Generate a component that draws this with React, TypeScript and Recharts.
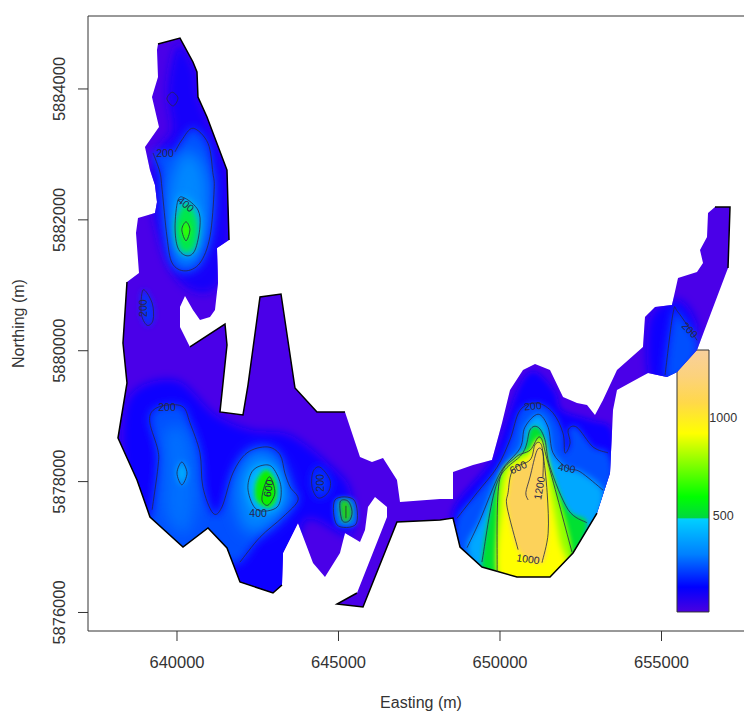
// Wind/biomass style survey map: filled contour bands over a land outline, axes in UTM metres.
import React from 'react';
import { ComposedChart, Scatter, XAxis, YAxis, ReferenceArea, ReferenceLine } from 'recharts';

type P = [number, number];

const X_DOMAIN = [637245, 657554];
const Y_DOMAIN = [5875717, 5885115];
const xTicks = [640000, 645000, 650000, 655000];
const yTicks = [5876000, 5878000, 5880000, 5882000, 5884000];

const outline: P[] = [
  [639412, 5884687], [640093, 5884778], [640495, 5884412], [640619, 5884259], [640650, 5883877], [640929, 5883571],
  [641548, 5882761], [641579, 5882227], [641610, 5881692], [641238, 5881570], [641269, 5881035], [641176, 5880622],
  [641022, 5880515], [640712, 5880469], [640495, 5880622], [640248, 5880836], [640093, 5880668], [640093, 5880362],
  [640402, 5880057], [641486, 5880408], [641548, 5880087], [641331, 5879064], [642043, 5879018], [642198, 5879476],
  [642570, 5880821], [643220, 5880867], [643653, 5879430], [644334, 5879064], [645201, 5879064], [645666, 5878376],
  [646037, 5878300], [646378, 5878361], [646811, 5878025], [646904, 5877688], [648142, 5877734], [648545, 5877734],
  [648545, 5878147], [649164, 5878254], [649752, 5878330], [650062, 5878896], [650310, 5879400], [650712, 5879705],
  [651084, 5879797], [651548, 5879705], [651951, 5879293], [652384, 5879201], [652694, 5879171], [652941, 5879018],
  [653189, 5879247], [653622, 5879705], [654427, 5880057], [654489, 5880515], [654799, 5880668], [655325, 5880699],
  [655511, 5881111], [656099, 5881203], [656285, 5881340], [656192, 5881539], [656409, 5881738], [656440, 5882104],
  [656656, 5882196], [657121, 5882196], [657059, 5881264], [656099, 5880011], [655480, 5879675], [655170, 5879598],
  [654582, 5879660], [653622, 5879400], [653499, 5879094], [653406, 5878132], [653003, 5877520], [652260, 5876909],
  [651548, 5876542], [650526, 5876542], [649443, 5876695], [648762, 5877001], [648545, 5877444], [648142, 5877413],
  [646811, 5877383], [645759, 5876084], [644954, 5876130], [645573, 5876298], [646502, 5877459], [646502, 5877612],
  [646130, 5877765], [645913, 5877612], [645820, 5877261], [645666, 5877077], [645201, 5877215], [645046, 5876909],
  [644582, 5876542], [644211, 5876756], [643746, 5877368], [643282, 5876909], [643251, 5876420], [642972, 5876298],
  [641950, 5876466], [641548, 5876986], [640960, 5877291], [640186, 5877001], [639164, 5877459], [638762, 5878025],
  [638173, 5878666], [638452, 5879507], [638328, 5880118], [638452, 5881050], [638824, 5881188], [638731, 5881799],
  [638793, 5882028], [639319, 5882104], [639381, 5882272], [639319, 5882532], [639164, 5882761], [639009, 5883113],
  [639443, 5883418], [639226, 5883877], [639412, 5884182], [639381, 5884595],
];

// stretches of the outline that carry the heavy black edge
const edgeRanges: P[] = [[0, 9], [18, 29], [60, 63], [70, 82], [94, 106]];

const blueNorth: P[] = [
  [640030, 5884670], [640560, 5884290], [640710, 5883830], [641580, 5882760], [641640, 5881690], [641270, 5881000],
  [640560, 5880900], [639850, 5881200], [639410, 5881770], [639160, 5882530], [639410, 5883070], [639850, 5883370],
  [639720, 5883980],
];
const blueSouthWest: P[] = [
  [638480, 5879250], [639940, 5879550], [641180, 5879020], [642260, 5878790], [643500, 5878710], [644740, 5878250],
  [645360, 5877870], [645360, 5877180], [643960, 5877410], [643500, 5876340], [641950, 5876340], [640870, 5877180],
  [640090, 5876880], [639010, 5877340], [638390, 5878020],
];
const blueCentre: P[] = [
  [648610, 5877640], [649690, 5878300], [650150, 5878870], [650620, 5879480], [651080, 5879680], [651700, 5879370],
  [651920, 5879090], [652790, 5878940], [653470, 5878790], [653470, 5878100], [652320, 5876800], [649380, 5876650],
  [648610, 5877260],
];
const blueEast: P[] = [
  [654640, 5880500], [655510, 5880780], [656100, 5880390], [655880, 5879860], [655260, 5879550], [654640, 5879580],
];

// contour lines, named by level
const north200: P[] = [
  [639260, 5883020], [639470, 5882730], [639540, 5882460], [639690, 5881740], [639850, 5881340], [640250, 5881220],
  [640710, 5881340], [641020, 5881740], [641150, 5882460], [641110, 5882720], [640960, 5883170], [640500, 5883400],
  [640150, 5883220], [639940, 5883040],
];
const north300: P[] = [
  [640280, 5883070], [640870, 5882760], [640960, 5882000], [640560, 5881360], [640030, 5881360], [639720, 5882000],
  [639780, 5882610],
];
const north400: P[] = [
  [640250, 5882330], [640650, 5882150], [640710, 5881890], [640560, 5881540], [640310, 5881450], [640030, 5881570],
  [639940, 5881890], [640030, 5882300],
];
const north500: P[] = [
  [640280, 5882260], [640620, 5882000], [640590, 5881620], [640280, 5881490], [640030, 5881620], [639970, 5881970],
];
const north600: P[] = [[640280, 5881970], [640400, 5881850], [640280, 5881680], [640150, 5881850]];
const northLow: P[] = [[639850, 5883950], [640030, 5883860], [639880, 5883740], [639690, 5883850]];
const west200: P[] = [[638950, 5880930], [639230, 5880730], [639260, 5880470], [639070, 5880390], [638890, 5880580]];

const southWest200: P[] = [
  [639230, 5877570], [639410, 5878220], [639410, 5878480], [639160, 5878900], [639260, 5879090], [639690, 5879170],
  [640190, 5879140], [640400, 5878900], [640710, 5878440], [640800, 5877920], [641110, 5877520], [641390, 5877610],
  [641730, 5878130], [642170, 5878440], [642790, 5878530], [643190, 5878410], [643340, 5878130], [643500, 5877920],
  [643750, 5877720], [643280, 5877460], [642570, 5877150], [641950, 5876770],
];
const southWest200Edge: P[] = [[641490, 5876800], [640960, 5877110], [640190, 5876800], [639010, 5877260]];
const southWest300: P[] = [
  [639630, 5878790], [640250, 5878790], [640560, 5878180], [640560, 5877570], [640250, 5877180], [639630, 5877490],
  [639630, 5878180],
];
const southWest400: P[] = [[640150, 5878300], [640310, 5878130], [640150, 5877950], [640000, 5878130]];

const peak300: P[] = [
  [642630, 5878480], [643280, 5878180], [643440, 5877720], [642880, 5877340], [642110, 5877260], [641800, 5877870],
  [642110, 5878330],
];
const peak400: P[] = [
  [642660, 5878250], [642970, 5878210], [643220, 5877920], [643100, 5877610], [642480, 5877570], [642200, 5877870],
  [642320, 5878150],
];
const peakGreen: P[] = [
  [642760, 5878180], [643070, 5877990], [643070, 5877720], [642820, 5877600], [642450, 5877720], [642450, 5877990],
];
const peak600: P[] = [[642880, 5878070], [643030, 5877830], [642820, 5877640], [642630, 5877720], [642720, 5877950]];

const oval200: P[] = [
  [644430, 5878220], [644740, 5878020], [644670, 5877830], [644370, 5877750], [644180, 5877920], [644210, 5878150],
];
const spot200: P[] = [[644890, 5877720], [645480, 5877720], [645540, 5877350], [644950, 5877340]];
const spot400: P[] = [[645050, 5877690], [645300, 5877700], [645420, 5877540], [645330, 5877400], [645110, 5877410]];
const spotCore: P[] = [[645230, 5877630], [645230, 5877440]];

const east200: P[] = [[655110, 5879630], [655360, 5880580], [655510, 5880590], [656100, 5880160]];
const east200Edge: P[] = [[656040, 5879860], [655570, 5879580]];

const centre200: P[] = [
  [648670, 5877440], [649290, 5877830], [649910, 5878220], [650310, 5878640], [650620, 5879090], [651150, 5879200],
  [651640, 5879050], [651950, 5878740], [652010, 5878440], [652170, 5878590], [652110, 5878790], [652380, 5878830],
  [652880, 5878530], [653340, 5878440],
];
const centre200Edge: P[] = [
  [653470, 5878020], [653000, 5877410], [652260, 5876800], [651550, 5876420], [650530, 5876420], [649440, 5876570],
  [648700, 5876920],
];
const centre400: P[] = [
  [648980, 5876990], [649380, 5877410], [650000, 5878130], [650620, 5878510], [650770, 5878830], [651180, 5879030],
  [651490, 5878830], [651640, 5878440], [652070, 5878210], [652480, 5878150], [653190, 5877870],
];
const centre400Edge: P[] = [[653000, 5877410], [652260, 5876800], [651550, 5876420], [650530, 5876420], [649440, 5876570]];
const centre600: P[] = [
  [649440, 5876770], [649910, 5877980], [650710, 5878440], [650930, 5878790], [651180, 5878830], [651390, 5878640],
  [651550, 5878220], [652110, 5877570], [652690, 5877370],
];
const centre600Edge: P[] = [[652260, 5876800], [651550, 5876420], [650530, 5876420], [649690, 5876530]];
const centre800: P[] = [
  [649910, 5876620], [649970, 5877980], [650460, 5878360], [650930, 5878480], [651240, 5878680], [651490, 5878280],
  [652230, 5876920],
];
const centre800Edge: P[] = [[651550, 5876420], [650530, 5876420], [650000, 5876420]];
const centreYellow: P[] = [
  [650050, 5876450], [650060, 5877640], [650280, 5878200], [650870, 5878400], [651270, 5878620], [651560, 5877870],
  [651850, 5877110], [652000, 5876600],
];
const centre1000: P[] = [
  [650560, 5876960], [650220, 5877610], [650250, 5877830], [650400, 5878180], [650930, 5878330], [651080, 5878560],
  [651240, 5878590], [651330, 5878440], [651460, 5877830], [651490, 5877210], [651300, 5876760],
];
const centre1200: P[] = [
  [650870, 5877720], [650800, 5877830], [650930, 5878070], [651150, 5878480], [651330, 5878440], [651330, 5878070],
];

const openContours: P[][] = [north200, southWest200, east200, centre200, centre400, centre600, centre800, centre1000, centre1200, spotCore];
const closedContours: P[][] = [north400, north600, northLow, west200, southWest400, peak400, peak600, oval200, spot200, spot400];

const levelLabels: { e: number; n: number; text: string; turn: number }[] = [
  { e: 639630, n: 5883020, text: '200', turn: 0 },
  { e: 640280, n: 5882240, text: '400', turn: 40 },
  { e: 638950, n: 5880650, text: '200', turn: -90 },
  { e: 639690, n: 5879140, text: '200', turn: 0 },
  { e: 642510, n: 5877520, text: '400', turn: 0 },
  { e: 642820, n: 5877900, text: '600', turn: -80 },
  { e: 644430, n: 5877980, text: '200', turn: -90 },
  { e: 651020, n: 5879160, text: '200', turn: -5 },
  { e: 652070, n: 5878210, text: '400', turn: 10 },
  { e: 650560, n: 5878220, text: '600', turn: -25 },
  { e: 651210, n: 5877900, text: '1200', turn: -80 },
  { e: 650870, n: 5876820, text: '1000', turn: 8 },
  { e: 655880, n: 5880320, text: '200', turn: 45 },
];

// colour key
const keyEastings = [655480, 656470];
const keyNorthings = [5876008, 5880011];
const keyOffsets = [0, 0.1, 0.2, 0.318, 0.56, 0.64, 0.645, 0.78, 0.905, 1];
const keyColours = ['#f8d09c', '#fcd27c', '#ffd84a', '#ffff00', '#00ff00', '#00d840', '#00d0ff', '#0080ff', '#0000ff', '#4a00e0'];
const keyLabels = [
  { e: 656910, n: 5877475, text: '500' },
  { e: 656910, n: 5878972, text: '1000' },
];

const BASE = '#4a00e8';
const INK = '#333';
const FONT = '"Liberation Sans", Arial, sans-serif';

const toPoints = (list: P[]) => list.map(([e, n]) => ({ e, n }));
const noDot = () => <g />;

const smoothPath = (pts: { x: number; y: number }[], closed: boolean) => {
  const n = pts.length;
  const at = (i: number) => (closed ? pts[(i + n) % n] : pts[Math.max(0, Math.min(n - 1, i))]);
  let d = `M${pts[0].x},${pts[0].y}`;
  const last = closed ? n : n - 1;
  for (let i = 0; i < last; i++) {
    const [a, b, c, e] = [at(i - 1), at(i), at(i + 1), at(i + 2)];
    d += `C${b.x + (c.x - a.x) / 6},${b.y + (c.y - a.y) / 6} ${c.x - (e.x - b.x) / 6},${c.y - (e.y - b.y) / 6} ${c.x},${c.y}`;
  }
  return closed ? d + 'Z' : d;
};

const bandLine = (fill: string, blur: number) => (p: any) => (
  <g clipPath="url(#land)">
    <g filter={`url(#blur${blur})`}>
      <path d={smoothPath(p.points, true)} fill={fill} stroke="none" />
    </g>
  </g>
);

const landLine = (p: any) => {
  const d = p.points.map((q: any, i: number) => `${i ? 'L' : 'M'}${q.x},${q.y}`).join('') + 'Z';
  return (
    <g>
      <defs>
        <clipPath id="land"><path d={d} /></clipPath>
        {[2, 3, 5, 8].map(s => (
          <filter key={s} id={`blur${s}`} x="-60%" y="-60%" width="220%" height="220%">
            <feGaussianBlur stdDeviation={s} />
          </filter>
        ))}
        <linearGradient id="keyFill" x1="0" y1="0" x2="0" y2="1">
          {keyOffsets.map((o, i) => <stop key={o} offset={o} stopColor={keyColours[i]} />)}
        </linearGradient>
      </defs>
      <path d={d} fill={BASE} />
    </g>
  );
};

const band = (list: P[], fill: string, blur: number) => (
  <Scatter data={toPoints(list)} shape={noDot} line={bandLine(fill, blur)} isAnimationActive={false} />
);

const contour = (list: P[], closed: boolean) => (
  <Scatter
    data={toPoints(list)}
    shape={noDot}
    isAnimationActive={false}
    line={(p: any) => (
      <path d={smoothPath(p.points, closed)} fill="none" stroke="#26264a" strokeOpacity={0.8} strokeWidth={1} />
    )}
  />
);

const LevelText = (p: any) => (
  <text
    x={p.cx}
    y={p.cy}
    transform={`rotate(${p.payload.turn} ${p.cx} ${p.cy})`}
    textAnchor="middle"
    dominantBaseline="central"
    fontFamily={FONT}
    fontSize={10.5}
    fill="#26264a"
  >
    {p.payload.text}
  </text>
);

const KeyText = (p: any) => (
  <text x={p.cx} y={p.cy} textAnchor="middle" dominantBaseline="central" fontFamily={FONT} fontSize={12.5} fill={INK}>
    {p.payload.text}
  </text>
);

const NorthingTick = (p: any) => (
  <text
    x={p.x - 11}
    y={p.y}
    transform={`rotate(-90 ${p.x - 11} ${p.y})`}
    textAnchor="middle"
    fontFamily={FONT}
    fontSize={16.5}
    fill={INK}
  >
    {p.payload.value}
  </text>
);

export default function App() {
  return (
    <div style={{ position: 'absolute', left: 0, top: 0, width: 744, height: 711, overflow: 'hidden', background: '#fff' }}>
      <ComposedChart width={744} height={711} margin={{ top: 16, right: 0, bottom: 0, left: 0 }}>
        <XAxis
          type="number"
          dataKey="e"
          domain={X_DOMAIN}
          ticks={xTicks}
          allowDataOverflow
          height={80}
          tickSize={10}
          tickMargin={15}
          stroke={INK}
          tick={{ fontFamily: FONT, fontSize: 16.5, fill: INK }}
          label={{ value: 'Easting (m)', position: 'insideBottom', offset: 3, dx: 5, style: { fontFamily: FONT, fontSize: 16, fill: INK } }}
        />
        <YAxis
          type="number"
          dataKey="n"
          domain={Y_DOMAIN}
          ticks={yTicks}
          allowDataOverflow
          width={88}
          tickSize={10}
          stroke={INK}
          tick={NorthingTick}
          label={{ value: 'Northing (m)', angle: -90, position: 'insideLeft', offset: 18, style: { fontFamily: FONT, fontSize: 16, fill: INK, textAnchor: 'middle' } }}
        />
        <ReferenceLine y={Y_DOMAIN[1]} stroke={INK} />

        <Scatter data={toPoints(outline)} shape={noDot} line={landLine} isAnimationActive={false} />

        {band(blueNorth, '#1800fa', 5)}
        {band(blueSouthWest, '#1000ff', 5)}
        {band(blueCentre, '#1000ff', 3)}
        {band(blueEast, '#1000ff', 5)}

        {band(west200, '#0038ff', 3)}
        {band(north200, '#0050ff', 5)}
        {band(north300, '#0088ff', 8)}
        {band(north400, '#00b8ff', 5)}
        {band(north500, '#00e848', 3)}
        {band(north600, '#30ff00', 2)}

        {band([...southWest200, ...southWest200Edge], '#0050ff', 5)}
        {band(southWest300, '#0070ff', 8)}
        {band(southWest400, '#00b0ff', 3)}
        {band(peak300, '#0088ff', 8)}
        {band(peak400, '#00c0ff', 5)}
        {band(peakGreen, '#10f000', 2)}
        {band(oval200, '#0038ff', 5)}
        {band(spot200, '#0070ff', 2)}
        {band(spot400, '#20d020', 2)}
        {band([...east200, ...east200Edge], '#0050ff', 5)}

        {band([...centre200, ...centre200Edge], '#0050ff', 3)}
        {band([...centre400, ...centre400Edge], '#00a8ff', 3)}
        {band([...centre600, ...centre600Edge], '#00e030', 2)}
        {band([...centre800, ...centre800Edge], '#90ff00', 2)}
        {band(centreYellow, '#ffff00', 3)}
        {band(centre1000, '#fcd25a', 2)}

        {edgeRanges.map(([from, to]) => (
          <Scatter
            key={from}
            data={toPoints(outline.slice(from, to))}
            shape={noDot}
            isAnimationActive={false}
            line={{ stroke: '#000', strokeWidth: 1.5, fill: 'none' }}
          />
        ))}

        {openContours.map((c, i) => <React.Fragment key={i}>{contour(c, false)}</React.Fragment>)}
        {closedContours.map((c, i) => <React.Fragment key={i}>{contour(c, true)}</React.Fragment>)}
        <Scatter data={levelLabels} shape={LevelText} isAnimationActive={false} />

        <ReferenceArea
          x1={keyEastings[0]}
          x2={keyEastings[1]}
          y1={keyNorthings[0]}
          y2={keyNorthings[1]}
          fill="url(#keyFill)"
          fillOpacity={1}
          stroke="#333"
          ifOverflow="visible"
        />
        <Scatter data={keyLabels} shape={KeyText} isAnimationActive={false} />
      </ComposedChart>
    </div>
  );
}
